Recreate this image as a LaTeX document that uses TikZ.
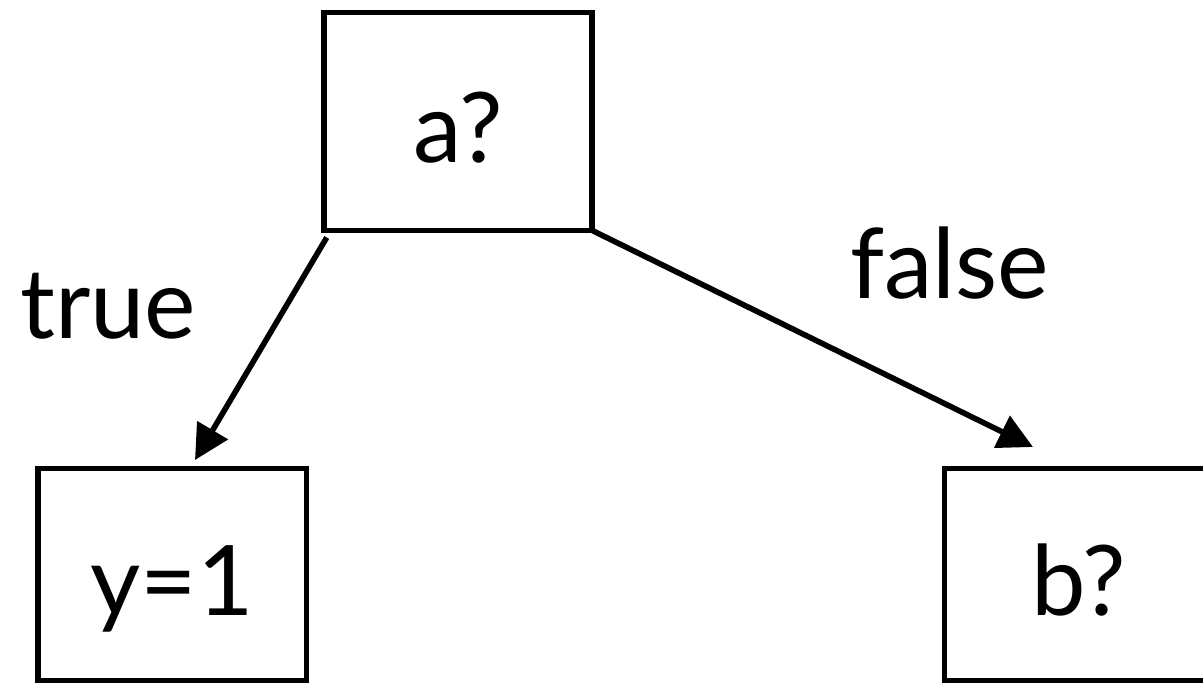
\documentclass[tikz,border=0pt]{standalone}
\usepackage{fontspec}
\setmainfont{Lato}
\usetikzlibrary{arrows.meta}
\begin{document}
\begin{tikzpicture}[x=0.75pt,y=-0.75pt,
  box/.style={draw, line width=4.2pt, inner sep=0pt, outer sep=0pt,
    minimum width=201.4pt, minimum height=159pt,
    text height=61pt, text depth=0pt, font=\fontsize{73}{80}\selectfont},
  lbl/.style={inner sep=0pt, font=\fontsize{73}{80}\selectfont},
  arr/.style={line width=4.2pt, -{Triangle[length=26pt,width=26pt]}}]
\useasboundingbox (0,0) rectangle (1203,683);
% decision and leaf boxes
\node[box, minimum height=163.5pt] (a) at (458,121.5) {a?};
\node[box] (y) at (172.25,574.5) {y=1};
\node[box] (b) at (1078.75,574.5) {b?};
% arrow end points above the lower boxes
\coordinate (t1) at (195,460);
\coordinate (t2) at (1033,447);
\draw[arr] ([shift={(3,7)}]a.south west) -- (t1);
\draw[arr] (a.south east) -- (t2);
% branch labels
\node[lbl, anchor=base west] (lt) at (20,338) {true};
\node[lbl, anchor=base west] (lf) at (850,298) {false};
\end{tikzpicture}
\end{document}
